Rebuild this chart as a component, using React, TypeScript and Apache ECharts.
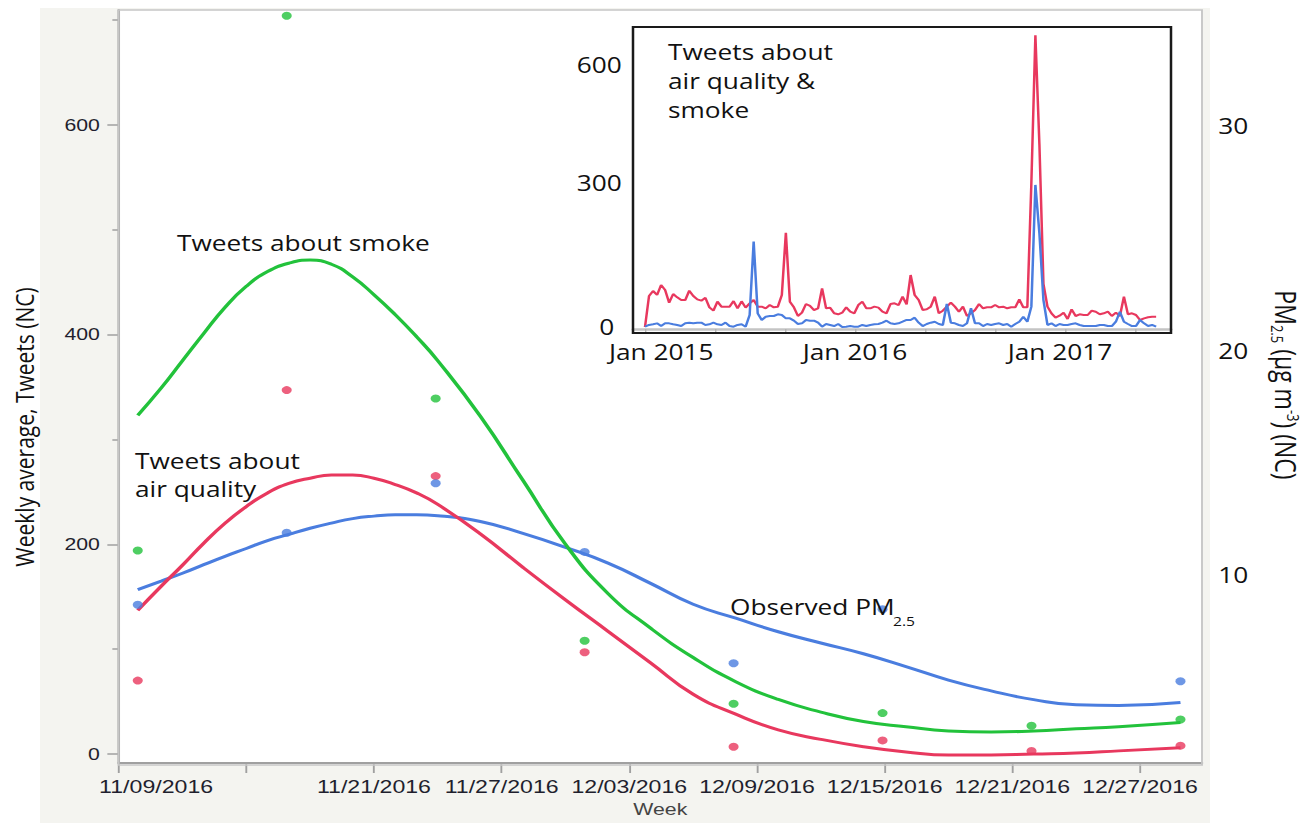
import React, { useEffect, useRef } from 'react';
import * as echarts from 'echarts';

// ---- canvas geometry (the reference is horizontally stretched, so the chart is drawn narrower and stretched by CSS) ----
const CHART_W = 1047;
const CHART_H = 823;
const S = 1309 / CHART_W;
const X = (px: number) => px / S;

// ---- main chart data (days since 11/09/2016) ----
const xTickDays = [0, 6, 12, 18, 24, 30, 36, 42, 48];
const xTickLabels = ['11/09/2016', '', '11/21/2016', '11/27/2016', '12/03/2016', '12/09/2016', '12/15/2016', '12/21/2016', '12/27/2016'];
const leftTicks = [0, 200, 400, 600];
const leftMinorTicks = [100, 300, 500, 700];
const rightTicks = [10, 20, 30];

const fitDays = [0.9, 2, 3, 4, 5, 6, 7, 8, 9, 10, 11, 12, 13, 14, 15, 17, 19, 21, 23, 25, 27, 29, 31, 33, 35, 37, 39, 41, 43, 45, 47, 49.9];
const smokeFit = [323, 349, 375, 401, 426, 446, 460, 468, 471, 467, 455, 438, 419, 398, 375, 322, 261, 200, 153, 120, 92, 69, 52, 40, 31, 26, 22, 21, 22, 24, 26, 30];
const airFit = [137, 160, 180, 201, 220, 236, 249, 258, 263, 266, 266, 263, 257, 249, 238, 210, 178, 147, 117, 87, 57, 38, 23, 14, 7, 2, -1, -1, 0, 1, 3, 6];
const pmFit = [9.37, 9.75, 10.1, 10.48, 10.85, 11.2, 11.55, 11.83, 12.1, 12.33, 12.53, 12.64, 12.7, 12.7, 12.66, 12.4, 11.87, 11.25, 10.55, 9.65, 8.72, 8.1, 7.5, 7.0, 6.52, 5.95, 5.35, 4.87, 4.48, 4.25, 4.22, 4.35];

const dotDays = [0.9, 7.9, 14.9, 21.9, 28.9, 35.9, 42.9, 49.9];
const smokeDots = [194, 704, 339, 108, 48, 39, 27, 33];
const airDots = [70, 347, 265, 97, 7, 13, 3, 8];
const pmDots: (number | null)[] = [8.7, 11.9, 14.1, 11.05, 6.1, 8.5, null, 5.3];

// ---- inset data: weekly counts from the first week of Jan 2015 ----
const insetLabelYears = [0, 1, 2];
const insetLabels = ['Jan 2015', 'Jan 2016', 'Jan 2017'];
const insetTickYears = [0, 1 / 3, 2 / 3, 1, 4 / 3, 5 / 3, 2, 7 / 3];
const insetYTicks = [0, 300, 600];
const insetRed = [
  0, 64.6, 75, 66.7, 87.5, 77, 50.7, 68.7, 61.8, 56.2,
  56, 75.7, 64.6, 57.6, 54.9, 61, 41, 34, 52.8, 42.4,
  42.4, 42.4, 54, 38.9, 53.5, 40.3, 49.3, 56.2, 42.4, 42.4,
  38.9, 45.8, 41, 42.4, 66.7, 196.5, 52.8, 41, 22.9, 29.9,
  47.9, 43.8, 35.4, 38.9, 80.6, 38.9, 40.3, 28.5, 26.4, 29.9,
  41, 31.9, 28.5, 45.8, 52.8, 38.9, 38.9, 42.4, 40.3, 31.9,
  28.5, 47.9,
  49.3, 45.8, 63.2, 47.2, 108.3, 66.7, 56.2, 35.4, 36.8, 42.4,
  63.2, 28.5, 34, 42.4, 50.7, 42.4, 31.9, 42.4, 22.9, 28.5,
  35.4, 47.9, 38.9, 41, 41, 45.8, 41, 42.4, 38.9, 41,
  41, 57.6, 41, 41,
  300, 608, 380, 90,
  42.4, 28.5, 19.4, 23.6, 29.9, 16.7, 36.8, 22.9, 26.4, 25,
  25, 34, 31.9, 26.4, 28.5, 31.9, 22.9, 29.9, 22.9, 63.2,
  26.4, 28.5, 25, 14.6, 18, 20.2, 21.5, 21.5,
];
const insetBlue = [
  0.6, 4.2, 5.6, 7.6, 2, 7.6, 7.6, 5.6, 4.2, 2,
  7.6, 9, 7.6, 9, 9, 4.2, 5.6, 9, 5.6, 4.2,
  9, 2, 0.6, 4.2, 5.6, 0.6, 25, 177.8, 28.5, 14.6,
  21.5, 22.9, 22.9, 26.4, 25, 18, 18, 13.2, 6.2, 7.6,
  14.6, 13.2, 13.2, 9, 0.6, 6.2, 4.2, 2, 6.2, 0,
  0.6, 2, 0.6, 0.6, 4.2, 2, 4.2, 5.6, 6.2, 9,
  13.2, 7.6,
  6.2, 7.6, 11, 14.6, 14.6, 19.4, 9, 2, 6.2, 9,
  11, 6.2, 4.2, 47.9, 9, 7.6, 4.2, 2, 7.6, 38.9,
  7.6, 7.6, 2, 6.2, 4.2, 6.2, 7.6, 4.2, 6.2, 0.6,
  6.2, 11, 21.5, 11,
  42.4, 296, 195, 56,
  4.2, 7.6, 2, 6.2, 4.2, 4.2, 6.2, 7.6, 4.2, 2,
  2, 2, 2, 4.2, 4.2, 2, 2, 11, 31.9, 11,
  6.2, 2, 2, 14.6, 7.6, 2, 4.2, 0.6,
];

const GREEN = '#22c23b';
const RED = '#e8385e';
const BLUE = '#4a7ddf';
const TICK_FONT = 'Liberation Sans';
const TEXT_FONT = 'Open Sans';

// main plot box (screen px)
const P_L = 118.6, P_R = 1202, P_T = 10, P_B = 765;
// inset box (screen px)
const I_L = 633, I_R = 1171, I_T = 27, I_B = 333, I_AXIS = 329, I_X0 = 645, I_PX_YEAR = 210;
const I_ZERO_Y = 327, I_PX_UNIT = 0.48;

function buildOption() {
  const weekYears = (i: number) => (i * 7) / 365.25;
  const insetXMin = (X(I_L) - X(I_X0)) / (I_PX_YEAR / S);
  const insetXMax = (X(I_R) - X(I_X0)) / (I_PX_YEAR / S);
  const insetYMin = -(I_AXIS - I_ZERO_Y) / I_PX_UNIT;
  const insetYMax = (I_ZERO_Y - I_T) / I_PX_UNIT;

  const leftPx = 1.0515; // px per tweet
  const leftMax = (756 - P_T) / leftPx;
  const leftMin = -(P_B - 756) / leftPx;
  const rightPx = 22.55;
  const rightMax = (802.5 - P_T) / rightPx;
  const rightMin = (802.5 - P_B) / rightPx;

  const dayPx = 21.28;
  const xMax = (P_R - P_L) / dayPx;

  return {
    animation: false,
    backgroundColor: '#ffffff',
    grid: [
      { left: X(P_L), right: CHART_W - X(P_R), top: P_T, bottom: CHART_H - P_B, containLabel: false },
      { left: X(I_L), right: CHART_W - X(I_R), top: I_T, bottom: CHART_H - I_AXIS, containLabel: false },
    ],
    xAxis: [
      {
        type: 'value', gridIndex: 0, min: 0, max: xMax,
        splitLine: { show: false },
        axisLine: { show: true, onZero: false, lineStyle: { color: '#a0a0a0', width: 2 } },
        axisTick: { show: true, customValues: xTickDays, length: 10, lineStyle: { color: '#a0a0a0', width: 1.5 } },
        axisLabel: {
          customValues: xTickDays,
          margin: 14,
          fontSize: 18.5, fontFamily: TICK_FONT, color: '#1f1f2e',
          formatter: (v: number) => {
            const i = xTickDays.indexOf(v);
            const t = i >= 0 ? xTickLabels[i] : '';
            return i === 0 ? `{first|${t}}` : t;
          },
          rich: { first: { padding: [0, 0, 0, 60], fontSize: 18.5, fontFamily: TICK_FONT, color: '#1f1f2e' } },
        },
        name: 'Week', nameLocation: 'middle', nameGap: 38,
        nameTextStyle: { fontSize: 17, fontFamily: TICK_FONT, color: '#444' },
      },
      {
        type: 'value', gridIndex: 1, min: insetXMin, max: insetXMax,
        splitLine: { show: false },
        axisLine: { show: true, onZero: false, lineStyle: { color: '#c4c4c4', width: 2.5 } },
        axisTick: { show: true, customValues: insetTickYears, length: 4, lineStyle: { color: '#b0b0b0', width: 1 } },
        axisLabel: {
          customValues: insetLabelYears,
          margin: 13,
          fontSize: 21, lineHeight: 20, fontFamily: TEXT_FONT, color: '#111',
          formatter: (v: number) => {
            const i = insetLabelYears.indexOf(v);
            if (i < 0) return '';
            if (i === 0) return `{a|${insetLabels[i]}}`;
            if (i === 2) return `{c|${insetLabels[i]}}`;
            return insetLabels[i];
          },
          rich: {
            a: { padding: [0, 0, 0, 26], fontSize: 21, lineHeight: 20, fontFamily: TEXT_FONT, color: '#111' },
            c: { padding: [0, 8, 0, 0], fontSize: 21, lineHeight: 20, fontFamily: TEXT_FONT, color: '#111' },
          },
        },
      },
    ],
    yAxis: [
      {
        type: 'value', gridIndex: 0, min: leftMin, max: leftMax, position: 'left',
        splitLine: { show: false },
        axisLine: { show: true, onZero: false, lineStyle: { color: '#a0a0a0', width: 2 } },
        axisTick: { show: true, customValues: leftTicks, length: 9, lineStyle: { color: '#a0a0a0', width: 1.5 } },
        axisLabel: { customValues: leftTicks, margin: 15, fontSize: 17, fontFamily: TICK_FONT, color: '#1f1f2e' },
      },
      {
        type: 'value', gridIndex: 0, min: rightMin, max: rightMax, position: 'right',
        splitLine: { show: false },
        axisLine: { show: false },
        axisTick: { show: false },
        axisLabel: { customValues: rightTicks, margin: 13, fontSize: 21, fontFamily: TEXT_FONT, color: '#111' },
      },
      {
        type: 'value', gridIndex: 0, min: leftMin, max: leftMax, position: 'left',
        splitLine: { show: false },
        axisLine: { show: false },
        axisTick: { show: true, customValues: leftMinorTicks, length: 5, lineStyle: { color: '#a0a0a0', width: 1.5 } },
        axisLabel: { show: false },
      },
      {
        type: 'value', gridIndex: 1, min: insetYMin, max: insetYMax, position: 'left',
        splitLine: { show: false },
        axisLine: { show: false },
        axisTick: { show: false },
        axisLabel: {
          customValues: insetYTicks, margin: 9, fontSize: 21, lineHeight: 20, fontFamily: TEXT_FONT, color: '#111',
          formatter: (v: number) => (v === 600 ? `{low|${v}}` : v === 0 ? `{zero|${v}}` : String(v)),
          rich: {
            low: { padding: [52, 0, 0, 0], fontSize: 21, lineHeight: 20, fontFamily: TEXT_FONT, color: '#111' },
            zero: { padding: [0, 6, 0, 0], fontSize: 21, lineHeight: 20, fontFamily: TEXT_FONT, color: '#111' },
          },
        },
      },
    ],
    graphic: {
      elements: [
        { type: 'rect', z: -20, silent: true, shape: { x: X(40), y: 8, width: X(1210) - X(40), height: 815 }, style: { fill: '#f4f4f0' } },
        { type: 'rect', z: -19, silent: true, shape: { x: X(P_L), y: P_T, width: X(P_R) - X(P_L), height: P_B - P_T }, style: { fill: '#ffffff' } },
        { type: 'rect', z: 50, silent: true, shape: { x: X(P_L), y: P_T, width: X(P_R) - X(P_L), height: P_B - P_T }, style: { fill: 'none', stroke: '#c6c6c6', lineWidth: 1.5 } },
        { type: 'rect', z: 50, silent: true, shape: { x: X(I_L), y: I_T, width: X(I_R) - X(I_L), height: I_B - I_T }, style: { fill: 'none', stroke: '#1a1a1a', lineWidth: 2 } },
        {
          type: 'text', z: 60, x: X(24), y: 427, rotation: Math.PI / 2,
          style: { text: 'Weekly average, Tweets (NC)', fontSize: 21, fontFamily: TEXT_FONT, fill: '#111', align: 'center', verticalAlign: 'middle' },
        },
        {
          type: 'text', z: 60, x: X(1286), y: 385, rotation: -Math.PI / 2,
          style: {
            text: '{b|PM}{s|2.5}{b| (µg m}{p|-3}{b|) (NC)}',
            align: 'center', verticalAlign: 'middle', fill: '#111',
            rich: {
              b: { fontSize: 23, fontFamily: TEXT_FONT, lineHeight: 26, fill: '#111', color: '#111' },
              s: { fontSize: 13, fontFamily: TEXT_FONT, verticalAlign: 'bottom', fill: '#111', color: '#111' },
              p: { fontSize: 13, fontFamily: TEXT_FONT, verticalAlign: 'top', fill: '#111', color: '#111' },
            },
          },
        },
        {
          type: 'text', z: 60, x: X(177), y: 243,
          style: { text: 'Tweets about smoke', fontSize: 21, fontFamily: TEXT_FONT, fill: '#111', align: 'left', verticalAlign: 'middle' },
        },
        {
          type: 'text', z: 60, x: X(135), y: 475,
          style: { text: 'Tweets about\nair quality', fontSize: 21, lineHeight: 28, fontFamily: TEXT_FONT, fill: '#111', align: 'left', verticalAlign: 'middle' },
        },
        {
          type: 'text', z: 60, x: X(730), y: 607,
          style: { text: 'Observed PM', fontSize: 21, fontFamily: TEXT_FONT, fill: '#111', align: 'left', verticalAlign: 'middle' },
        },
        {
          type: 'text', z: 60, x: X(893), y: 621,
          style: { text: '2.5', fontSize: 12.5, fontFamily: TEXT_FONT, fill: '#111', align: 'left', verticalAlign: 'middle' },
        },
        {
          type: 'text', z: 60, x: X(668), y: 81,
          style: { text: 'Tweets about\nair quality &\nsmoke', fontSize: 21, lineHeight: 29, fontFamily: TEXT_FONT, fill: '#111', align: 'left', verticalAlign: 'middle' },
        },
      ],
    },
    series: [
      {
        name: 'Tweets about smoke (fit)', type: 'line', xAxisIndex: 0, yAxisIndex: 0, smooth: 0.5, symbol: 'none',
        lineStyle: { color: GREEN, width: 3 }, data: fitDays.map((d, i) => [d, smokeFit[i]]), z: 3,
      },
      {
        name: 'Tweets about air quality (fit)', type: 'line', xAxisIndex: 0, yAxisIndex: 0, smooth: 0.5, symbol: 'none',
        lineStyle: { color: RED, width: 3 }, data: fitDays.map((d, i) => [d, airFit[i]]), z: 3,
      },
      {
        name: 'Observed PM2.5 (fit)', type: 'line', xAxisIndex: 0, yAxisIndex: 1, smooth: 0.5, symbol: 'none',
        lineStyle: { color: BLUE, width: 3 }, data: fitDays.map((d, i) => [d, pmFit[i]]), z: 2,
      },
      {
        name: 'Tweets about smoke', type: 'scatter', xAxisIndex: 0, yAxisIndex: 0, symbolSize: 8,
        itemStyle: { color: GREEN }, data: dotDays.map((d, i) => [d, smokeDots[i]]), z: 4,
      },
      {
        name: 'Tweets about air quality', type: 'scatter', xAxisIndex: 0, yAxisIndex: 0, symbolSize: 8,
        itemStyle: { color: RED }, data: dotDays.map((d, i) => [d, airDots[i]]), z: 4,
      },
      {
        name: 'Observed PM2.5', type: 'scatter', xAxisIndex: 0, yAxisIndex: 1, symbolSize: 8,
        itemStyle: { color: BLUE }, data: dotDays.map((d, i) => [d, pmDots[i]]).filter((p) => p[1] !== null), z: 4,
      },
      {
        name: 'Inset air quality & smoke (red)', type: 'line', xAxisIndex: 1, yAxisIndex: 3, symbol: 'none',
        lineStyle: { color: RED, width: 2 }, data: insetRed.map((v, i) => [weekYears(i), v]), z: 5,
      },
      {
        name: 'Inset air quality & smoke (blue)', type: 'line', xAxisIndex: 1, yAxisIndex: 3, symbol: 'none',
        lineStyle: { color: BLUE, width: 2 }, data: insetBlue.map((v, i) => [weekYears(i), v]), z: 6,
      },
    ],
  };
}

export default function App() {
  const ref = useRef<HTMLDivElement>(null);
  useEffect(() => {
    if (!ref.current) return;
    const chart = echarts.init(ref.current, null, { renderer: 'svg', width: CHART_W, height: CHART_H });
    chart.setOption(buildOption() as any);
    return () => chart.dispose();
  }, []);
  return (
    <div style={{ position: 'fixed', left: 0, top: 0, width: 1309, height: 823, overflow: 'hidden', background: '#ffffff' }}>
      <div
        ref={ref}
        style={{ width: CHART_W, height: CHART_H, transform: `scaleX(${S})`, transformOrigin: '0 0' }}
      />
    </div>
  );
}
